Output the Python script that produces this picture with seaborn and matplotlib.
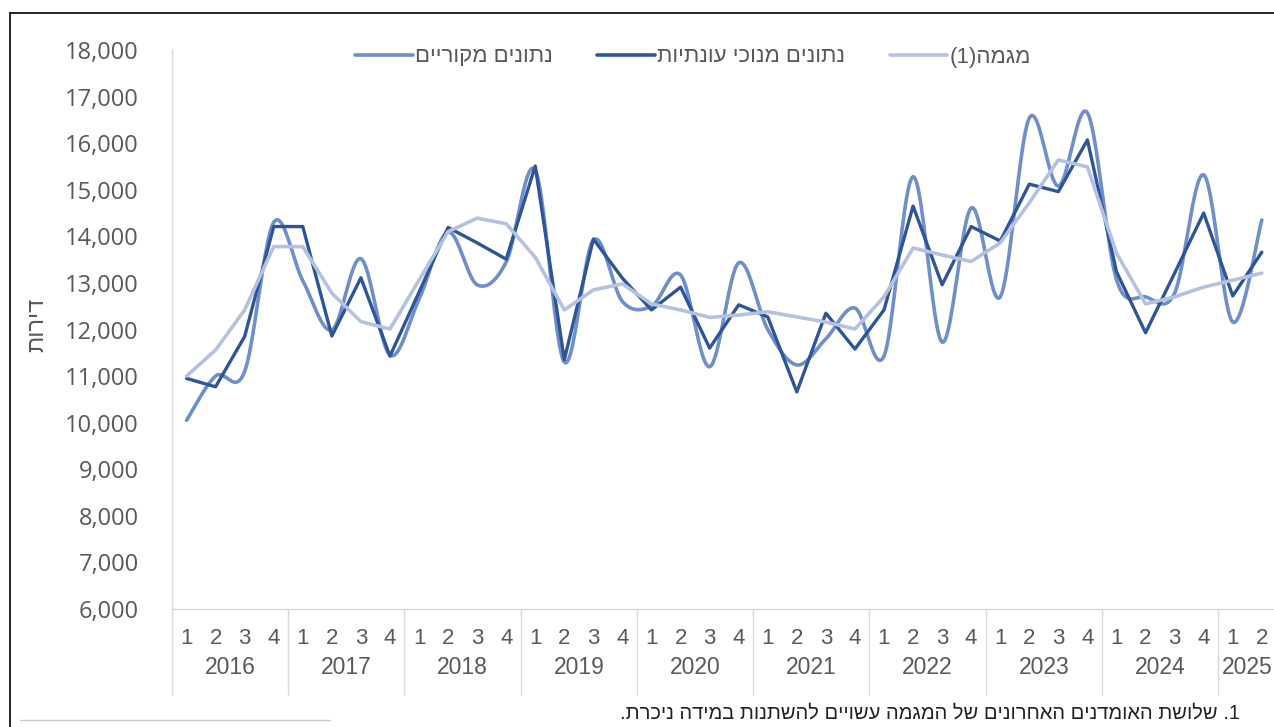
import numpy as np
import pandas as pd
import matplotlib
matplotlib.use("Agg")
import matplotlib.pyplot as plt
import matplotlib.transforms as mtransforms
from matplotlib.lines import Line2D
import seaborn as sns

# data (quarterly, 2016Q1 - 2025Q2)
years = ["2016", "2017", "2018", "2019", "2020", "2021", "2022", "2023", "2024", "2025"]
quarter_labels = ["1", "2", "3", "4"] * 9 + ["1", "2"]

original = [10050, 11000, 11100, 14300, 13050, 11990, 13520, 11450, 12650, 14090,
            12960, 13450, 15420, 11300, 13920, 12600, 12500, 13170, 11200, 13430,
            12000, 11240, 11800, 12460, 11430, 15280, 11730, 14610, 12700, 16540,
            15080, 16650, 13070, 12700, 12780, 15320, 12160, 14350]
seas_adj = [10950, 10770, 11850, 14210, 14210, 11860, 13110, 11430, 12800, 14190,
            13860, 13510, 15510, 11350, 13940, 13100, 12420, 12910, 11600, 12530,
            12270, 10660, 12350, 11580, 12420, 14650, 12960, 14210, 13900, 15120,
            14960, 16070, 13240, 11930, 13210, 14500, 12720, 13660]
trend = [11000, 11560, 12420, 13780, 13780, 12780, 12170, 12010, 13060, 14100,
         14390, 14270, 13550, 12420, 12850, 12980, 12550, 12420, 12260, 12310,
         12380, 12270, 12160, 12010, 12700, 13750, 13600, 13460, 13860, 14720,
         15640, 15490, 13640, 12550, 12700, 12910, 13060, 13210]

lbl_orig = "נתונים מקוריים"
lbl_seas = "נתונים מנוכי עונתיות"
lbl_trend = "מגמה(1)"
ylabel = "דירות"
footnote = "1. שלושת האומדנים האחרונים של המגמה עשויים להשתנות במידה ניכרת."


def heb(s):
    # matplotlib has no bidi support: flip to visual order, mirror brackets
    s = s[::-1]
    return s.translate(str.maketrans("()", ")("))


def excel_smooth(vals, n=24):
    # Bezier smoothing like Excel's "smoothed line"
    x = np.arange(len(vals), dtype=float)
    y = np.asarray(vals, dtype=float)
    xs, ys = [], []
    for i in range(len(y) - 1):
        i0 = max(i - 1, 0)
        i3 = min(i + 2, len(y) - 1)
        p0 = np.array([x[i], y[i]])
        p3 = np.array([x[i + 1], y[i + 1]])
        p1 = p0 + (np.array([x[i + 1], y[i + 1]]) - np.array([x[i0], y[i0]])) / 6
        p2 = p3 - (np.array([x[i3], y[i3]]) - np.array([x[i], y[i]])) / 6
        t = np.linspace(0, 1, n, endpoint=(i == len(y) - 2))[:, None]
        pts = (1 - t) ** 3 * p0 + 3 * (1 - t) ** 2 * t * p1 + 3 * (1 - t) * t ** 2 * p2 + t ** 3 * p3
        xs.append(pts[:, 0])
        ys.append(pts[:, 1])
    return np.concatenate(xs), np.concatenate(ys)


idx = np.arange(len(original))
sx, sy = excel_smooth(original)
df_orig = pd.DataFrame({"x": sx, "y": sy})
df_seas = pd.DataFrame({"x": idx, "y": seas_adj})
df_trend = pd.DataFrame({"x": idx, "y": trend})

sns.set_theme(style="white")
plt.rcParams["font.family"] = ["Liberation Sans", "DejaVu Sans"]

c_orig = "#6f8fca"
c_seas = "#2e5597"
c_trend = "#b4c1e0"
gray_txt = "#595959"
axis_col = "#d9d9d9"

fig = plt.figure(figsize=(12.74, 7.27), dpi=100)
ax = fig.add_axes([172 / 1274, 1 - 609 / 727, 1 - 172 / 1274, (609 - 50) / 727])

sns.lineplot(data=df_orig, x="x", y="y", ax=ax, color=c_orig, lw=2.6, sort=False)
sns.lineplot(data=df_seas, x="x", y="y", ax=ax, color=c_seas, lw=2.4)
sns.lineplot(data=df_trend, x="x", y="y", ax=ax, color=c_trend, lw=2.6)

ax.set_xlim(-0.5, 37.42)
ax.set_ylim(6000, 18000)
ax.set_xlabel("")
ax.set_ylabel("")

# y axis
ax.set_yticks(np.arange(6000, 18001, 1000))
ax.set_yticklabels([f"{v:,}" for v in range(6000, 18001, 1000)],
                   fontsize=17, color=gray_txt, family=["Open Sans", "DejaVu Sans"])
ax.tick_params(axis="y", length=0, pad=24)

# x axis: year separators as major ticks, quarter numbers as minor labels
ax.set_xticks(np.arange(-0.5, 37, 4))
ax.set_xticklabels([])
ax.tick_params(axis="x", which="major", bottom=True, length=62, width=1,
               color=axis_col, direction="out")
ax.set_xticks(idx, minor=True)
ax.set_xticklabels(quarter_labels, minor=True, fontsize=16, color=gray_txt,
                   family=["Liberation Sans Narrow", "Liberation Sans"])
ax.tick_params(axis="x", which="minor", bottom=True, length=0, pad=14)

trans = mtransforms.blended_transform_factory(ax.transData, ax.transAxes)
for k, yr in enumerate(years):
    span = idx[4 * k:4 * k + 4]
    ax.text(span.mean(), -(668 - 609) / 559, yr, transform=trans, ha="center", va="center",
            fontsize=16.5, color=gray_txt, family=["Liberation Sans Narrow", "Liberation Sans"],
            clip_on=False)

for side in ["top", "right"]:
    ax.spines[side].set_visible(False)
ax.spines["left"].set_color(axis_col)
ax.spines["bottom"].set_color(axis_col)
ax.spines["left"].set_linewidth(1)
ax.spines["bottom"].set_linewidth(1)

# legend
handles = [Line2D([], [], color=c_orig, lw=2.6),
           Line2D([], [], color=c_seas, lw=2.6),
           Line2D([], [], color=c_trend, lw=2.6)]
leg = ax.legend(handles, [heb(lbl_orig), heb(lbl_seas), heb(lbl_trend)],
                loc="center", bbox_to_anchor=((693 - 172) / 1102, (609 - 57) / 559),
                ncol=3, frameon=False, fontsize=16, handlelength=2.6, handletextpad=0.1,
                columnspacing=2.0)
for t in leg.get_texts():
    t.set_color(gray_txt)

fig.text(37 / 1274, 1 - 325 / 727, heb(ylabel), rotation=90, ha="center", va="center",
         fontsize=17, color=gray_txt)
fig.text(1240 / 1274, 1 - 713 / 727, heb(footnote), ha="right", va="center",
         fontsize=14.5, color="#222222")

# outer frame pieces
fig.add_artist(Line2D([10 / 1274, 10 / 1274], [0, 1 - 13 / 727], color="black", lw=1.2))
fig.add_artist(Line2D([10 / 1274, 1], [1 - 13 / 727, 1 - 13 / 727], color="black", lw=1.2))
fig.add_artist(Line2D([20 / 1274, 330 / 1274], [1 - 720 / 727, 1 - 720 / 727], color="#c8c8c8", lw=1))

fig.savefig("out.png", dpi=100)
